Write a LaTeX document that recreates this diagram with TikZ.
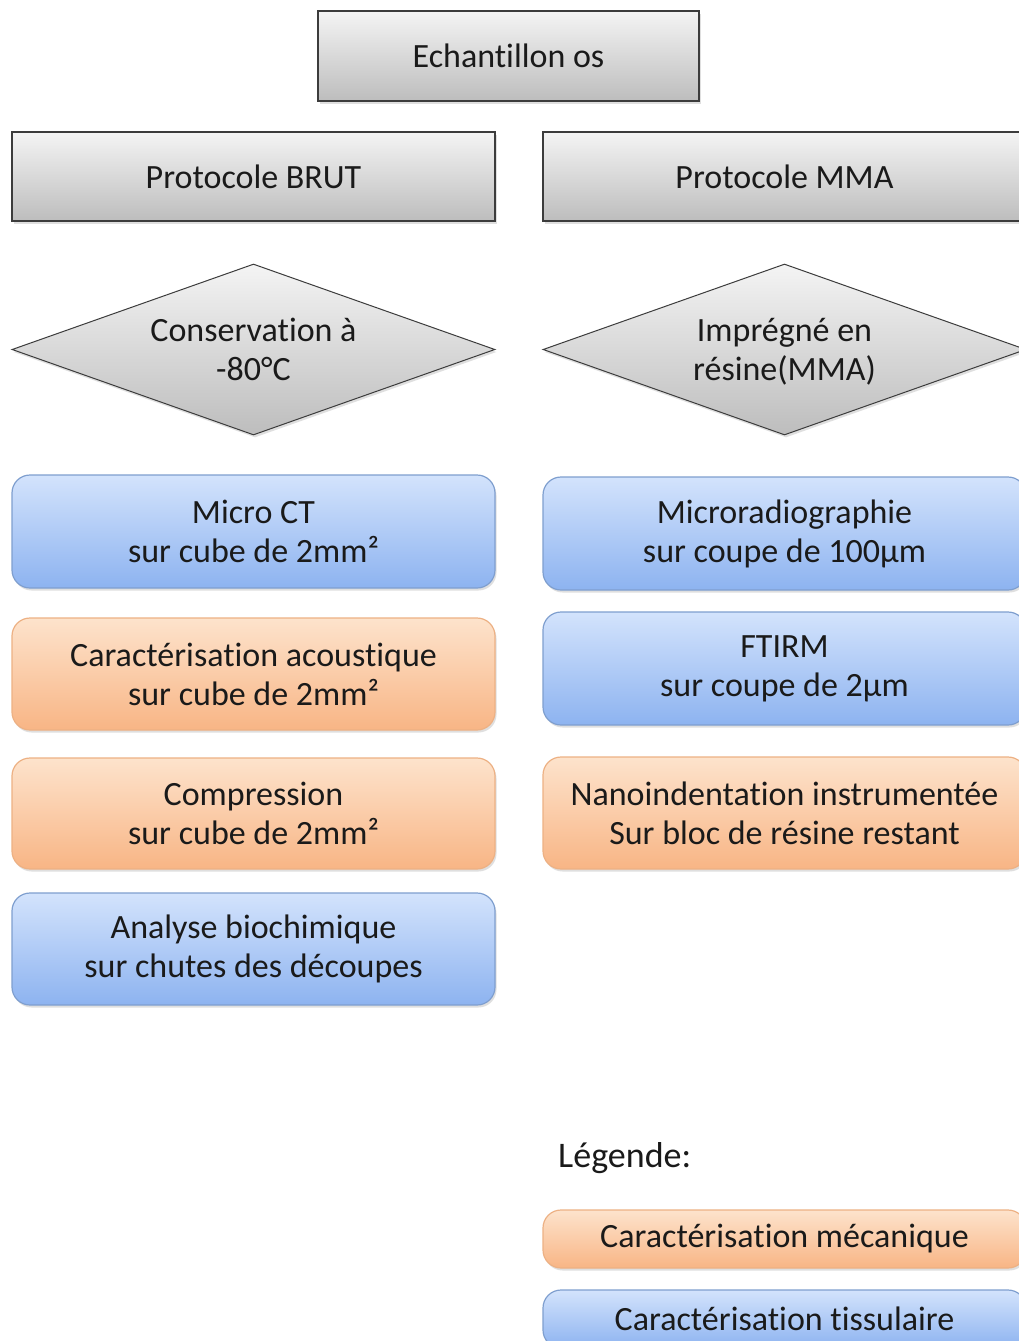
\documentclass[tikz,border=0pt]{standalone}
\usepackage{fontspec}
\setmainfont{Carlito}[Ligatures={NoCommon}]
\usetikzlibrary{shapes.geometric,shadows}
\definecolor{txt}{HTML}{1A1A1A}
\definecolor{graytop}{HTML}{F4F4F4}
\definecolor{graybot}{HTML}{BDBDBD}
\definecolor{grayline}{HTML}{3C3C3C}
\definecolor{bluetop}{HTML}{D3E3FC}
\definecolor{bluebot}{HTML}{8DB3F0}
\definecolor{blueline}{HTML}{7F9FCF}
\definecolor{orangetop}{HTML}{FDE3CC}
\definecolor{orangebot}{HTML}{F8B585}
\definecolor{orangeline}{HTML}{EDB184}
\newcommand{\topstrut}{\rule{0pt}{35.3pt}}
\tikzset{
  base/.style={inner sep=0pt, align=center, text=txt, font=\fontsize{34}{39}\selectfont,
    drop shadow={opacity=0.25, shadow xshift=1.5pt, shadow yshift=-2.5pt}},
  graybox/.style={base, rectangle, draw=grayline, line width=1.2pt, top color=graytop, bottom color=graybot,
    minimum width=#1, minimum height=89pt},
  graydia/.style={base, diamond, shape aspect=2.82, draw=grayline, line width=1pt, top color=graytop, bottom color=graybot,
    minimum width=483pt, minimum height=171pt},
  bluebox/.style={base, rectangle, rounded corners=18pt, draw=blueline, line width=1.2pt,
    top color=bluetop, bottom color=bluebot, minimum width=483pt, minimum height=#1},
  orangebox/.style={base, rectangle, rounded corners=18pt, draw=orangeline, line width=1.2pt,
    top color=orangetop, bottom color=orangebot, minimum width=483pt, minimum height=#1},
}
\begin{document}
\begin{tikzpicture}[x=1pt,y=-1pt]
\useasboundingbox (0,0) rectangle (1019,1341);
\fill[white] (0,0) rectangle (1019,1341);

\node[graybox=381pt, minimum height=90pt] (ech) at (508.5,56) {Echantillon os};
\node[graybox=483pt] (brut) at (253.5,176.5) {Protocole BRUT};
\node[graybox=483pt] (mma) at (784.5,176.5) {Protocole MMA};

\node[graydia] (cons) at (253.5,349.5) {\topstrut Conservation à\\\strut -80°C};
\node[graydia] (impr) at (784.5,349.5) {\topstrut Imprégné en\\\strut résine(MMA)};

\node[bluebox=113pt] (ct) at (253.5,531.5) {Micro CT\\sur cube de 2mm²};
\node[orangebox=112pt] (acou) at (253.5,674) {Caractérisation acoustique\\sur cube de 2mm²};
\node[orangebox=111pt] (comp) at (253.5,813.5) {Compression\\sur cube de 2mm²};
\node[bluebox=112pt] (bio) at (253.5,949) {Analyse biochimique\\sur chutes des découpes};

\node[bluebox=113pt] (mrad) at (784.5,533.5) {Microradiographie\\sur coupe de 100µm};
\node[bluebox=113pt] (ftirm) at (784.5,668.5) {FTIRM\\sur coupe de 2µm};
\node[orangebox=112pt] (nano) at (784.5,813) {Nanoindentation instrumentée\\Sur bloc de résine restant};

\node[anchor=west, inner sep=0pt, text=txt, font=\fontsize{36}{40}\selectfont] (leg) at (558,1158) {Légende:};
\node[orangebox=58pt] (legm) at (784.5,1239) {Caractérisation mécanique};
\node[bluebox=58pt] (legt) at (784.5,1319) {Caractérisation tissulaire};
\end{tikzpicture}
\end{document}
